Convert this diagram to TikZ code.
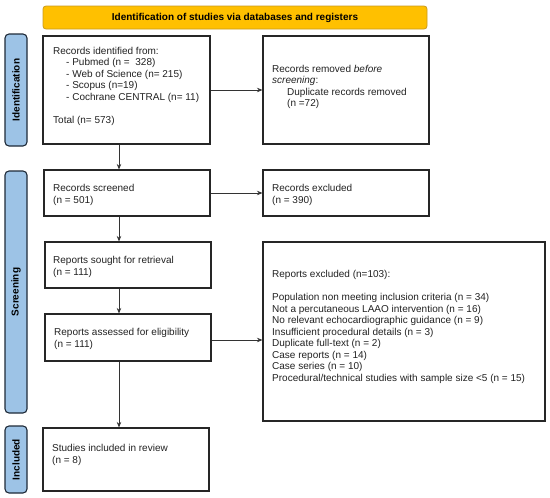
\documentclass[tikz,border=0pt]{standalone}
\usepackage{fontspec}
\setmainfont{Liberation Sans}
\usetikzlibrary{arrows.meta}
\definecolor{bannerfill}{HTML}{FFC000}
\definecolor{bannerline}{HTML}{C99A1E}
\definecolor{sidefill}{HTML}{9DC3E6}
\definecolor{sideline}{HTML}{1E2A38}
\definecolor{txt}{HTML}{222222}
\definecolor{arrcol}{HTML}{333333}
\tikzset{
  box/.style={draw=black!85, line width=1.1pt, fill=white, rectangle, inner sep=0pt},
  side/.style={draw=sideline, line width=1.1pt, fill=sidefill, rounded corners=4pt, rotate=90, inner sep=0pt, font=\fontsize{10}{11}\selectfont\bfseries, text=black},
  banner/.style={draw=bannerline, line width=0.8pt, fill=bannerfill, rounded corners=3pt, inner sep=0pt, font=\fontsize{10}{11}\selectfont\bfseries, text=black},
  btext/.style={anchor=north west, inner sep=0pt, align=left, text=txt, font=\fontsize{10}{11.5}\selectfont},
  arr/.style={draw=arrcol, line width=0.7pt, -{Stealth[length=5.5pt,width=4.5pt]}}
}
\begin{document}
\begin{tikzpicture}[x=1pt,y=-1pt]
\useasboundingbox (0,0) rectangle (550,498);
% banner
\node[banner, minimum width=384pt, minimum height=23pt] (ban) at (235,17.5) {Identification of studies via databases and registers};
% side labels
\node[side, minimum width=112pt, minimum height=22pt] (sid1) at (16,90) {Identification};
\node[side, minimum width=242pt, minimum height=22pt] (sid2) at (16,292) {Screening};
\node[side, minimum width=67pt, minimum height=22pt] (sid3) at (16,459.5) {Included};
% boxes
\node[box, minimum width=167pt, minimum height=108pt] (id) at (126.5,90) {};
\node[box, minimum width=166pt, minimum height=108pt] (rem) at (346,90) {};
\node[box, minimum width=166pt, minimum height=46pt] (scr) at (127,193) {};
\node[box, minimum width=166pt, minimum height=46pt] (exc) at (346,193) {};
\node[box, minimum width=166pt, minimum height=46pt] (sought) at (128,265) {};
\node[box, minimum width=166pt, minimum height=47pt] (assess) at (128,337.5) {};
\node[box, minimum width=282pt, minimum height=179pt] (rexc) at (404,331.5) {};
\node[box, minimum width=166pt, minimum height=63pt] (incl) at (126,459.5) {};
% texts
\node[btext] (idt) at (53,47) {Records identified from:\\
\hspace*{13pt}- Pubmed (n =\ \ 328)\\
\hspace*{13pt}- Web of Science (n= 215)\\
\hspace*{13pt}- Scopus (n=19)\\
\hspace*{13pt}- Cochrane CENTRAL (n= 11)\\[11.5pt]
Total (n= 573)};
\node[btext] (remt) at (272,65) {Records removed \textit{before}\\
\textit{screening}:\\
\hspace*{15pt}Duplicate records removed\\
\hspace*{15pt}(n =72)};
\node[btext] (scrt) at (53,184.5) {Records screened\\(n = 501)};
\node[btext] (exct) at (272,184.5) {Records excluded\\(n = 390)};
\node[btext] (soughtt) at (53,256.5) {Reports sought for retrieval\\(n = 111)};
\node[btext] (assesst) at (54,328.5) {Reports assessed for eligibility\\(n = 111)};
\node[btext] (rexct) at (272,270.5) {Reports excluded (n=103):\\[11.5pt]
Population non meeting inclusion criteria (n = 34)\\
Not a percutaneous LAAO intervention (n = 16)\\
No relevant echocardiographic guidance (n = 9)\\
Insufficient procedural details (n = 3)\\
Duplicate full-text (n = 2)\\
Case reports (n = 14)\\
Case series (n = 10)\\
Procedural/technical studies with sample size <5 (n = 15)};
\node[btext] (inclt) at (52,444.5) {Studies included in review\\(n = 8)};
% arrows
\coordinate (ax) at (119,0);
\draw[arr] (id.south -| ax) -- (scr.north -| ax);
\draw[arr] (scr.south -| ax) -- (sought.north -| ax);
\draw[arr] (sought.south -| ax) -- (assess.north -| ax);
\draw[arr] (assess.south -| ax) -- (incl.north -| ax);
\draw[arr] (id.east) -- (rem.west);
\draw[arr] (scr.east) -- (exc.west);
\coordinate (ay) at (0,340);
\draw[arr] (assess.east |- ay) -- (rexc.west |- ay);
\end{tikzpicture}
\end{document}
